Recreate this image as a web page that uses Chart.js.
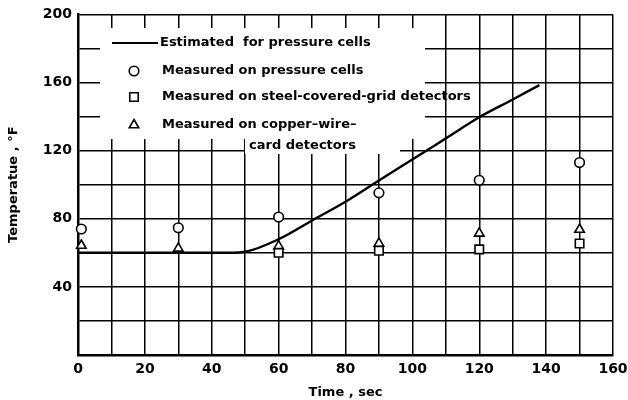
<!DOCTYPE html>
<html>
<head>
<meta charset="utf-8">
<script src="https://cdn.jsdelivr.net/npm/chart.js@4/dist/chart.umd.min.js"></script>
<style>
  html, body { margin: 0; padding: 0; background: #fff; }
  #wrap { width: 628px; height: 400px; }
</style>
</head>
<body>
<div id="wrap"><canvas id="tempChart" width="628" height="400"></canvas></div>
<script>
// estimated curve for the pressure cells
const estTime = [0, 45, 50, 60, 70, 80, 90, 100, 110, 120, 130, 138]
const estTemp = [60, 60, 60.6, 68, 79, 90, 102.5, 114.8, 127.2, 139.6, 150, 158.5]

// measured points
const cellTime = [1, 30, 60, 90, 120, 150]
const cellTemp = [74, 74.7, 81, 95.2, 102.6, 113]

const gridTime = [60, 90, 120, 150]
const gridTemp = [60, 61.2, 62, 65.5]

const wireTime = [1, 30, 60, 90, 120, 150]
const wireTemp = [64.3, 62.6, 63.9, 65.5, 71.4, 73.7]

const seriesLabels = [
  ['Estimated  for pressure cells'],
  ['Measured on pressure cells'],
  ['Measured on steel-covered-grid detectors'],
  ['Measured on copper\u2013wire\u2013', 'card detectors']
]

const xTickLabels = [0, 20, 40, 60, 80, 100, 120, 140, 160]
const yTickLabels = [40, 80, 120, 160, 200]

const toPoints = (xs, ys) => xs.map((x, i) => ({ x: x, y: ys[i] }))

const tickFont = { family: 'DejaVu Sans', size: 14, weight: 'bold' }
const legendFont = 'bold 13px "DejaVu Sans"'

// white panel behind the key, then the key itself
const keyPlugin = {
  id: 'key',
  beforeDatasetsDraw(chart) {
    const ctx = chart.ctx
    ctx.save()
    ctx.fillStyle = '#fff'
    ctx.fillRect(100, 28, 325, 111)
    ctx.fillRect(245, 139, 155, 15)
    ctx.restore()
  },
  afterDatasetsDraw(chart) {
    const ctx = chart.ctx
    const sets = chart.data.datasets
    const rows = [43, 71, 97, 125]
    ctx.save()
    ctx.font = legendFont
    ctx.textBaseline = 'middle'

    // line sample
    ctx.strokeStyle = '#000'
    ctx.lineWidth = 2.2
    ctx.beginPath()
    ctx.moveTo(112, rows[0])
    ctx.lineTo(158, rows[0])
    ctx.stroke()
    ctx.fillStyle = '#000'
    ctx.fillText(sets[0].label[0], 160, rows[0])

    for (let i = 1; i < sets.length; i++) {
      const ds = sets[i]
      ctx.fillStyle = '#fff'
      ctx.strokeStyle = '#000'
      ctx.lineWidth = ds.pointBorderWidth
      Chart.helpers.drawPoint(ctx, {
        pointStyle: ds.pointStyle,
        radius: ds.pointRadius,
        borderWidth: ds.pointBorderWidth,
        rotation: 0
      }, 134, rows[i])
      ctx.fillStyle = '#000'
      ctx.fillText(ds.label[0], 162, rows[i])
    }
    ctx.fillText(sets[3].label[1], 249, 146)
    ctx.restore()
  }
}

const markerBase = {
  showLine: false,
  pointBackgroundColor: '#fff',
  pointBorderColor: '#000',
  pointBorderWidth: 1.6,
  clip: false
}

new Chart(document.getElementById('tempChart').getContext('2d'), {
  type: 'scatter',
  data: {
    datasets: [
      {
        label: seriesLabels[0],
        data: toPoints(estTime, estTemp),
        showLine: true,
        borderColor: '#000',
        borderWidth: 2.4,
        pointRadius: 0,
        cubicInterpolationMode: 'monotone'
      },
      Object.assign({}, markerBase, {
        label: seriesLabels[1],
        data: toPoints(cellTime, cellTemp),
        pointStyle: 'circle',
        pointRadius: 4.8
      }),
      Object.assign({}, markerBase, {
        label: seriesLabels[2],
        data: toPoints(gridTime, gridTemp),
        pointStyle: 'rect',
        pointRadius: 6
      }),
      Object.assign({}, markerBase, {
        label: seriesLabels[3],
        data: toPoints(wireTime, wireTemp),
        pointStyle: 'triangle',
        pointRadius: 5.5
      })
    ]
  },
  options: {
    responsive: false,
    animation: false,
    layout: { padding: { left: 0, right: 0, top: 14, bottom: 0 } },
    plugins: {
      legend: { display: false },
      tooltip: { enabled: false }
    },
    scales: {
      x: {
        type: 'linear',
        min: 0,
        max: 160,
        afterFit: (s) => {
          s.height = 45
          s.paddingRight = 15
        },
        ticks: {
          stepSize: 10,
          autoSkip: false,
          maxRotation: 0,
          padding: 6,
          color: '#000',
          font: tickFont,
          callback: (v) => xTickLabels.includes(v) ? String(v) : ''
        },
        grid: { color: '#000', lineWidth: 1.5, drawTicks: false },
        border: { color: '#000', width: 2.5 },
        title: {
          display: true,
          text: 'Time , sec',
          color: '#000',
          font: { family: 'DejaVu Sans', size: 13, weight: 'bold' },
          padding: { top: 4, bottom: 0 }
        }
      },
      y: {
        min: 0,
        max: 200,
        afterFit: (s) => { s.width = 78 },
        ticks: {
          stepSize: 20,
          padding: 6,
          color: '#000',
          font: tickFont,
          callback: (v) => yTickLabels.includes(v) ? String(v) : ''
        },
        grid: { color: '#000', lineWidth: 1.5, drawTicks: false },
        border: { color: '#000', width: 2.5 },
        title: {
          display: true,
          text: 'Temperatue , \u00b0F',
          color: '#000',
          font: { family: 'DejaVu Sans', size: 13, weight: 'bold' },
          padding: { top: 6, bottom: 0 }
        }
      }
    }
  },
  plugins: [keyPlugin]
})
</script>
</body>
</html>
